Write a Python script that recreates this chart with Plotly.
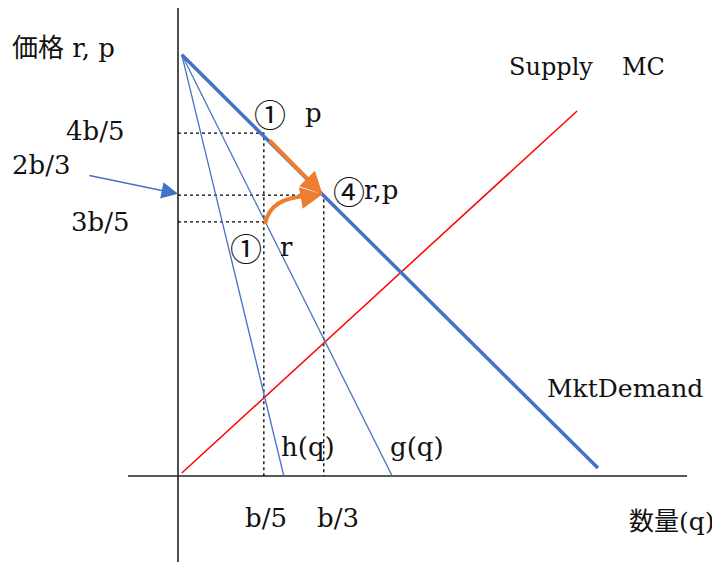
import plotly.graph_objects as go

# ---- data (units of b) ----
demand_q = [0.009, 0.988]
demand_p = [0.991, 0.019]
g_q = [0.009, 0.504]
g_p = [0.991, 0.0]
h_q = [0.009, 0.249]
h_p = [0.991, 0.0]
supply_q = [0.009, 0.939]
supply_p = [0.007, 0.859]

level_labels = ["4b/5", "2b/3", "3b/5"]
level_vals = [0.807, 0.661, 0.598]
qty_labels = ["b/5", "b/3"]
qty_vals = [0.202, 0.343]

BLUE = "#4472C4"
ORANGE = "#ED7D31"
AX = "#222222"
SERIF = "DejaVu Serif, Noto Sans CJK JP, serif"
CJK = "Noto Sans CJK JP, DejaVu Serif"

fig = go.Figure()

# axes
fig.add_trace(go.Scatter(x=[0, 0], y=[1.1035, -0.2024], mode="lines",
                         line=dict(color=AX, width=1.6), hoverinfo="skip"))
fig.add_trace(go.Scatter(x=[-0.1176, 1.1976], y=[0, 0], mode="lines",
                         line=dict(color=AX, width=1.6), hoverinfo="skip"))

# dotted guide lines
q5, q3 = qty_vals
p45, p23, p35 = level_vals
dot = dict(color="black", width=1.3, dash="dot")
fig.add_trace(go.Scatter(x=[0, q5, q5], y=[p45, p45, 0], mode="lines", line=dot, hoverinfo="skip"))
fig.add_trace(go.Scatter(x=[0, q3, q3], y=[p23, p23, 0], mode="lines", line=dot, hoverinfo="skip"))
fig.add_trace(go.Scatter(x=[0, q5], y=[p35, p35], mode="lines", line=dot, hoverinfo="skip"))

# curves
fig.add_trace(go.Scatter(x=supply_q, y=supply_p, mode="lines", line=dict(color="#FF0000", width=1.5)))
fig.add_trace(go.Scatter(x=h_q, y=h_p, mode="lines", line=dict(color=BLUE, width=1.3)))
fig.add_trace(go.Scatter(x=g_q, y=g_p, mode="lines", line=dict(color=BLUE, width=1.3)))
fig.add_trace(go.Scatter(x=demand_q, y=demand_p, mode="lines", line=dict(color=BLUE, width=3.5)))

ann = []

def txt(x, y, s, xa="left", size=24, fam=SERIF, ya="middle"):
    ann.append(dict(x=x, y=y, xref="x", yref="y", text=s, showarrow=False,
                    xanchor=xa, yanchor=ya, font=dict(family=fam, size=size, color="#111111")))

txt(-0.395, 1.007, "価格 r, p", size=26)
txt(-0.120, p45 + 0.004, level_labels[0], xa="right", size=26)
txt(-0.395, 0.732, level_labels[1], size=26)
txt(-0.108, p35, level_labels[2], xa="right", size=26)
txt(0.216, 0.854, "①", xa="center", size=32, fam=CJK)
txt(0.318, 0.854, "p", xa="center", size=26)
txt(0.403, 0.673, "④", xa="center", size=32, fam=CJK)
txt(0.434, 0.673, "r,p", size=26)
txt(0.160, 0.539, "①", xa="center", size=32, fam=CJK)
txt(0.256, 0.539, "r", xa="center", size=26)
txt(0.238, 0.068, "h(q)", size=26)
txt(0.494, 0.068, "g(q)", size=26)
txt(q5 + 0.005, -0.099, qty_labels[0], xa="center", size=26)
txt(q3 + 0.033, -0.099, qty_labels[1], xa="center", size=26)
txt(0.774, 0.962, "Supply", size=24)
txt(1.040, 0.962, "MC", size=24)
txt(0.864, 0.207, "MktDemand", size=25)
txt(1.268, -0.108, "数量(q)", xa="right", size=25)

# orange straight arrow along demand
ann.append(dict(x=0.340, y=0.663, ax=0.212, ay=0.793, xref="x", yref="y", axref="x", ayref="y",
                text="", showarrow=True, arrowhead=2, arrowsize=1.1, arrowwidth=4, arrowcolor=ORANGE))
# orange curved arrow head
ann.append(dict(x=0.340, y=0.663, ax=0.300, ay=0.656, xref="x", yref="y", axref="x", ayref="y",
                text="", showarrow=True, arrowhead=2, arrowsize=1.1, arrowwidth=4, arrowcolor=ORANGE))
# blue pointer to 2b/3
ann.append(dict(x=0.0, y=0.664, ax=-0.212, ay=0.708, xref="x", yref="y", axref="x", ayref="y",
                text="", showarrow=True, arrowhead=2, arrowsize=2.2, arrowwidth=1.5, arrowcolor=BLUE))

fig.add_shape(type="path", xref="x", yref="y",
              path="M 0.205,0.593 Q 0.2165,0.656 0.305,0.658",
              line=dict(color=ORANGE, width=4))

# the page body adds an 8px margin; ranges compensate so marks land where intended
fig.update_layout(
    width=720, height=563,
    margin=dict(l=0, r=0, t=0, b=0),
    paper_bgcolor="white", plot_bgcolor="white",
    showlegend=False,
    xaxis=dict(range=[-0.4, 1.29412], visible=False, showgrid=False, zeroline=False, fixedrange=True),
    yaxis=dict(range=[-0.22353, 1.10118], visible=False, showgrid=False, zeroline=False, fixedrange=True),
    annotations=ann,
)

fig.write_html("out.html", config={"displayModeBar": False})
